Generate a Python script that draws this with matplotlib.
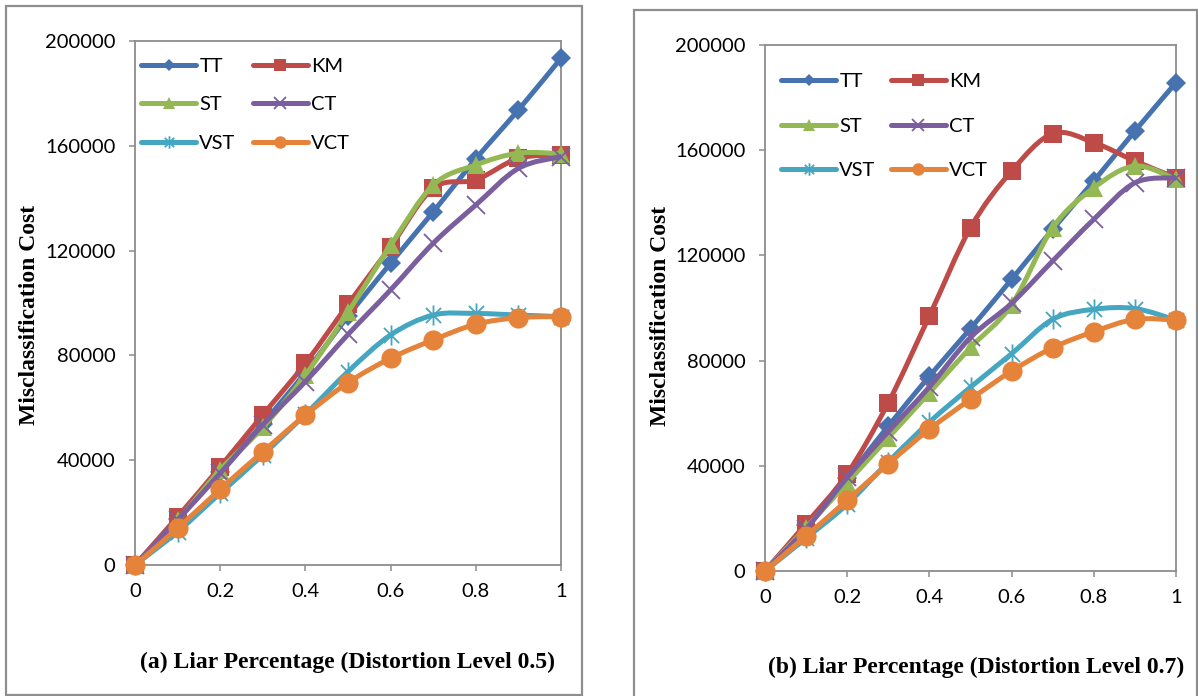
import numpy as np
import matplotlib
matplotlib.use("Agg")
import matplotlib.pyplot as plt
from matplotlib.path import Path
from matplotlib.patches import PathPatch, Rectangle
from matplotlib.lines import Line2D

# ---------------- data ----------------
liar_pct = [0, 0.1, 0.2, 0.3, 0.4, 0.5, 0.6, 0.7, 0.8, 0.9, 1.0]
series_names = ["TT", "KM", "ST", "CT", "VST", "VCT"]

# (a) distortion level 0.5
a_TT = [0, 17500, 35500, 54000, 73500, 95000, 115200, 134800, 155000, 173700, 193400]
a_KM = [0, 18400, 37500, 57300, 77000, 99500, 121500, 143800, 147000, 155200, 156500]
a_ST = [0, 17000, 36300, 52500, 72500, 96500, 122000, 145000, 152700, 157200, 157000]
a_CT = [0, 17200, 35000, 53500, 70000, 88000, 105000, 122800, 137400, 151400, 155900]
a_VST = [0, 12700, 27400, 42000, 57500, 73800, 87800, 95400, 96000, 95400, 94800]
a_VCT = [0, 14000, 28900, 43200, 57200, 69600, 78900, 85900, 91900, 94400, 94800]

# (b) distortion level 0.7
b_TT = [0, 17500, 35500, 55100, 74100, 92200, 110900, 129900, 148300, 167300, 185700]
b_KM = [0, 18000, 37000, 64000, 97000, 130500, 152100, 166300, 162900, 155900, 149500]
b_ST = [0, 16500, 33600, 50700, 67800, 85000, 101200, 130500, 145700, 154000, 148900]
b_CT = [0, 16000, 35600, 53000, 70000, 88800, 101800, 117900, 133700, 147600, 149500]
b_VST = [0, 12500, 25400, 41500, 56600, 69900, 82600, 95700, 99500, 99800, 95400]
b_VCT = [0, 13300, 26900, 40800, 53900, 65300, 76000, 84900, 91000, 95700, 95400]

x_ticks = [0, 0.2, 0.4, 0.6, 0.8, 1.0]
x_tick_labels = ["0", "0.2", "0.4", "0.6", "0.8", "1"]
y_ticks = [0, 40000, 80000, 120000, 160000, 200000]
y_tick_labels = ["0", "40000", "80000", "120000", "160000", "200000"]

ylabel = "Misclassification Cost"
caption_a = "(a) Liar Percentage (Distortion Level 0.5)"
caption_b = "(b) Liar Percentage (Distortion Level 0.7)"

# ---------------- styles ----------------
colors = {"TT": "#4673B0", "KM": "#BE4B48", "ST": "#94B853", "CT": "#7A5E9E",
          "VST": "#44A6C0", "VCT": "#E6833B"}

star = Path([(0, -1), (0, 1), (-0.75, -0.75), (0.75, 0.75), (-0.75, 0.75), (0.75, -0.75)],
            [Path.MOVETO, Path.LINETO, Path.MOVETO, Path.LINETO, Path.MOVETO, Path.LINETO])

mstyle = {
    "TT": dict(marker="D", ms=10.5, mew=0),
    "KM": dict(marker="s", ms=13.5, mew=0),
    "ST": dict(marker="^", ms=13.5, mew=0),
    "CT": dict(marker="x", ms=13.5, mew=1.3),
    "VST": dict(marker=star, ms=14.5, mew=1.3),
    "VCT": dict(marker="o", ms=14.5, mew=0),
}

TICK_FONT = "Lato"
SERIF = "Liberation Serif"
LW = 3.6
FS = 14.5


def smooth_path(xs, ys):
    P = np.column_stack([xs, ys]).astype(float)
    n = len(P)
    verts = [P[0]]
    codes = [Path.MOVETO]
    for i in range(n - 1):
        p0 = P[i - 1] if i > 0 else P[i]
        p1 = P[i]
        p2 = P[i + 1]
        p3 = P[i + 2] if i + 2 < n else P[i + 1]
        c1 = p1 + (p2 - p0) / 6.0
        c2 = p2 - (p3 - p1) / 6.0
        verts += [c1, c2, p2]
        codes += [Path.CURVE4] * 3
    return Path(verts, codes)


def draw_panel(ax, data, legend_anchor, labelspacing, colspacing):
    for i, name in enumerate(series_names):
        ys = data[name]
        c = colors[name]
        patch = PathPatch(smooth_path(liar_pct, ys), fill=False, edgecolor=c, lw=LW,
                          capstyle="round", joinstyle="round", zorder=2 + 2 * i)
        ax.add_patch(patch)
        st = mstyle[name]
        ax.plot(liar_pct, ys, linestyle="none", marker=st["marker"], ms=st["ms"],
                mew=st["mew"], mfc=c, mec=c, zorder=3 + 2 * i, clip_on=False)
    ax.set_xlim(0, 1)
    ax.set_ylim(0, 200000)
    ax.set_xticks(x_ticks)
    ax.set_xticklabels(x_tick_labels)
    ax.set_yticks(y_ticks)
    ax.set_yticklabels(y_tick_labels)
    for sp in ax.spines.values():
        sp.set_color("#8C8C8C")
        sp.set_linewidth(1.3)
    ax.tick_params(axis="both", direction="out", length=4, width=1.1, color="#8C8C8C",
                   labelsize=FS, labelcolor="black")
    ax.tick_params(axis="x", pad=9)
    ax.tick_params(axis="y", pad=10)
    for lab in ax.get_xticklabels() + ax.get_yticklabels():
        lab.set_fontfamily(TICK_FONT)

    handles = []
    for name in series_names:
        st = mstyle[name]
        handles.append(Line2D([], [], color=colors[name], lw=LW, marker=st["marker"],
                              ms=st["ms"] * 0.62, mew=st["mew"], mfc=colors[name],
                              mec=colors[name], solid_capstyle="round"))
    order = [0, 2, 4, 1, 3, 5]
    leg = ax.legend([handles[k] for k in order], [series_names[k] for k in order],
                    ncol=2, loc="upper left", bbox_to_anchor=legend_anchor,
                    bbox_transform=ax.figure.transFigure, frameon=False,
                    handlelength=2.75, handletextpad=0.15, columnspacing=colspacing,
                    labelspacing=labelspacing, borderpad=0, borderaxespad=0,
                    prop={"family": TICK_FONT, "size": FS})
    leg.set_zorder(20)
    return ax


W, H = 1198, 696
fig = plt.figure(figsize=(W / 100, H / 100), dpi=100)

fig.patches.append(Rectangle((6 / W, 1 - 695 / H), 576 / W, 689 / H, transform=fig.transFigure,
                             fill=False, edgecolor="#8E8E8E", lw=1.6))
fig.patches.append(Rectangle((634 / W, -0.01), 563 / W, 1 - 10 / H + 0.01, transform=fig.transFigure,
                             fill=False, edgecolor="#8E8E8E", lw=1.6))

ax1 = fig.add_axes([135 / W, 1 - 565 / H, 426 / W, 524 / H])
ax2 = fig.add_axes([765 / W, 1 - 571 / H, 411 / W, 526 / H])

data_a = dict(TT=a_TT, KM=a_KM, ST=a_ST, CT=a_CT, VST=a_VST, VCT=a_VCT)
data_b = dict(TT=b_TT, KM=b_KM, ST=b_ST, CT=b_CT, VST=b_VST, VCT=b_VCT)

draw_panel(ax1, data_a, (141 / W, 1 - 58 / H), 1.05, 0.85)
draw_panel(ax2, data_b, (781 / W, 1 - 73 / H), 1.36, 0.75)

fig.text(30 / W, 1 - 315 / H, ylabel, rotation=90, ha="center", va="center",
         family=SERIF, weight="bold", size=17)
fig.text(660 / W, 1 - 316 / H, ylabel, rotation=90, ha="center", va="center",
         family=SERIF, weight="bold", size=17)
fig.text(347 / W, 1 - 662 / H, caption_a, ha="center", va="center",
         family=SERIF, weight="bold", size=17)
fig.text(976 / W, 1 - 667 / H, caption_b, ha="center", va="center",
         family=SERIF, weight="bold", size=17)

fig.savefig("out.png", dpi=100)
